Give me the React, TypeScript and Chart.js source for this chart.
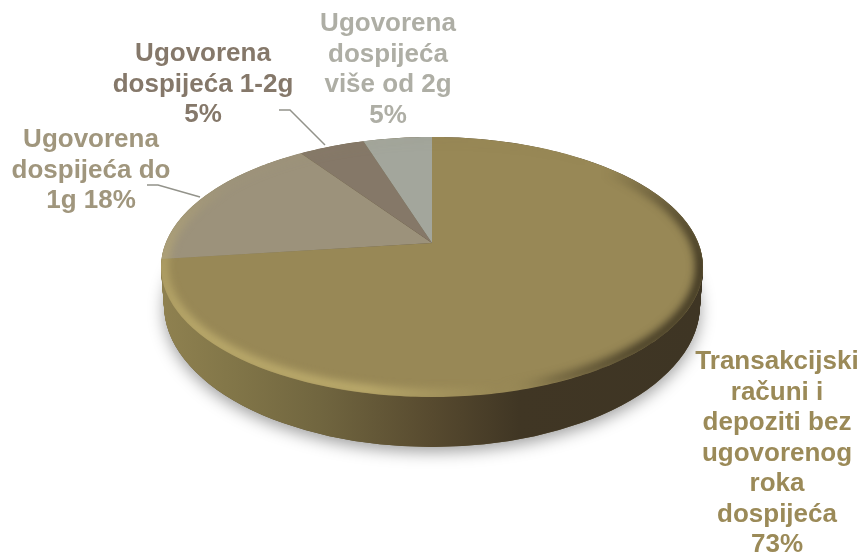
import React, { useEffect, useRef } from "react";
import { Chart, registerables } from "chart.js";

Chart.register(...registerables);

const categories = [
  ["Transakcijski", "računi i", "depoziti bez", "ugovorenog", "roka", "dospijeća", "73%"],
  ["Ugovorena", "dospijeća do", "1g 18%"],
  ["Ugovorena", "dospijeća 1-2g", "5%"],
  ["Ugovorena", "dospijeća", "više od 2g", "5%"],
];
const shares = [73, 17.4, 4.7, 4.9];
const sliceColors = ["#988856", "#9c927b", "#857868", "#a3a69c"];
const labelColors = ["#9b8a58", "#a0967d", "#85786a", "#aeaea5"];

const FONT = 'bold 26px "Liberation Sans", Arial, sans-serif';
const LINE = 30.5;
const labelAnchors = [
  { x: 777, y: 369 },
  { x: 91, y: 147 },
  { x: 203, y: 61 },
  { x: 388, y: 31 },
];
const leaders = [
  null,
  [[147, 185], [158, 185], [200, 197]],
  [[279, 110], [290, 110], [325, 145]],
  null,
];

// Perspective of the disc: apex, and the projected rim of the top and bottom faces.
const APEX = { x: 432, y: 243 };
const PROJ = { a: 266.3, b: 125.6, w: -0.1846 };
const TOP = { x: 432, y: 267, rx: 271, ry: 130 };
const BOTTOM = { x: 432, y: 305, rx: 268, ry: 142 };

function project(u: number, v: number) {
  const d = 1 + PROJ.w * v;
  return { x: APEX.x + (PROJ.a * u) / d, y: APEX.y + (PROJ.b * v) / d };
}

function ellipsePath(ctx: CanvasRenderingContext2D, e: typeof TOP) {
  ctx.beginPath();
  ctx.ellipse(e.x, e.y, e.rx, e.ry, 0, 0, Math.PI * 2);
}

const discPlugin = {
  id: "disc",
  beforeDatasetsDraw(chart: any) {
    const ctx: CanvasRenderingContext2D = chart.ctx;
    const arcs = chart.getDatasetMeta(0).data;

    // Drop shadow under the disc
    ctx.save();
    ctx.shadowColor = "rgba(0,0,0,0.38)";
    ctx.shadowBlur = 16;
    ctx.shadowOffsetY = 5;
    ctx.fillStyle = "#5c4f30";
    ellipsePath(ctx, BOTTOM);
    ctx.fill();
    ctx.restore();

    // Side wall
    const wall = ctx.createLinearGradient(TOP.x - TOP.rx, 0, TOP.x + TOP.rx, 0);
    wall.addColorStop(0, "#8f8150");
    wall.addColorStop(0.12, "#837749");
    wall.addColorStop(0.3, "#70653f");
    wall.addColorStop(0.5, "#574a2f");
    wall.addColorStop(0.66, "#403624");
    wall.addColorStop(1, "#3e3524");
    ctx.fillStyle = wall;
    const steps = 50;
    for (let i = steps; i >= 0; i--) {
      const t = i / steps;
      ctx.beginPath();
      ctx.ellipse(
        TOP.x,
        TOP.y + (BOTTOM.y - TOP.y) * t,
        TOP.rx + (BOTTOM.rx - TOP.rx) * t,
        TOP.ry + (BOTTOM.ry - TOP.ry) * t,
        0, 0, Math.PI * 2
      );
      ctx.fill();
    }

    // Top face: one projected wedge per library arc element
    arcs.forEach((arc: any) => {
      const { startAngle, endAngle } = arc.getProps(["startAngle", "endAngle"], true);
      ctx.beginPath();
      const c = project(0, 0);
      ctx.moveTo(c.x, c.y);
      const n = Math.max(4, Math.ceil((endAngle - startAngle) * 60));
      for (let k = 0; k <= n; k++) {
        const a = startAngle + ((endAngle - startAngle) * k) / n;
        const p = project(Math.cos(a), Math.sin(a));
        ctx.lineTo(p.x, p.y);
      }
      ctx.closePath();
      ctx.fillStyle = arc.options.backgroundColor;
      ctx.fill();
    });

    // Bevel around the rim of the top face
    ctx.save();
    ellipsePath(ctx, TOP);
    ctx.clip();
    const bevel = (ctx as any).createConicGradient(0, TOP.x, TOP.y);
    const dark = (a: number) => `rgba(46,39,24,${a})`;
    const light = (a: number) => `rgba(198,181,114,${a})`;
    bevel.addColorStop(0, dark(0.95));
    bevel.addColorStop(0.06, dark(0.8));
    bevel.addColorStop(0.12, dark(0.3));
    bevel.addColorStop(0.17, light(0));
    bevel.addColorStop(0.25, light(0.35));
    bevel.addColorStop(0.33, light(0.85));
    bevel.addColorStop(0.46, light(0.8));
    bevel.addColorStop(0.5, light(0.55));
    bevel.addColorStop(0.56, light(0.05));
    bevel.addColorStop(0.92, dark(0));
    bevel.addColorStop(0.97, dark(0.7));
    bevel.addColorStop(1, dark(0.95));
    ctx.filter = "blur(4px)";
    ctx.strokeStyle = bevel;
    ctx.lineWidth = 10;
    ellipsePath(ctx, { x: TOP.x, y: TOP.y, rx: TOP.rx - 2, ry: TOP.ry - 3 });
    ctx.stroke();
    ctx.restore();

    // Labels and leader lines
    ctx.save();
    ctx.font = FONT;
    ctx.textAlign = "center";
    ctx.textBaseline = "alphabetic";
    categories.forEach((lines, i) => {
      ctx.fillStyle = labelColors[i];
      lines.forEach((line, l) => {
        ctx.fillText(line, labelAnchors[i].x, labelAnchors[i].y + l * LINE);
      });
    });
    ctx.strokeStyle = "#93938b";
    ctx.lineWidth = 1.5;
    leaders.forEach((pts) => {
      if (!pts) return;
      ctx.beginPath();
      pts.forEach(([x, y], k) => (k ? ctx.lineTo(x, y) : ctx.moveTo(x, y)));
      ctx.stroke();
    });
    ctx.restore();
    return false;
  },
};

export default function App() {
  const ref = useRef<HTMLCanvasElement>(null);
  useEffect(() => {
    const chart = new Chart(ref.current!, {
      type: "pie",
      data: {
        labels: categories.map((c) => c.join(" ")),
        datasets: [{ data: shares, backgroundColor: sliceColors, borderWidth: 0 }],
      },
      options: {
        responsive: false,
        animation: false,
        plugins: { legend: { display: false }, tooltip: { enabled: false } },
      },
      plugins: [discPlugin],
    } as any);
    return () => chart.destroy();
  }, []);
  return (
    <canvas
      ref={ref}
      width={862}
      height={554}
      style={{ position: "absolute", left: 0, top: 0, display: "block" }}
    />
  );
}
